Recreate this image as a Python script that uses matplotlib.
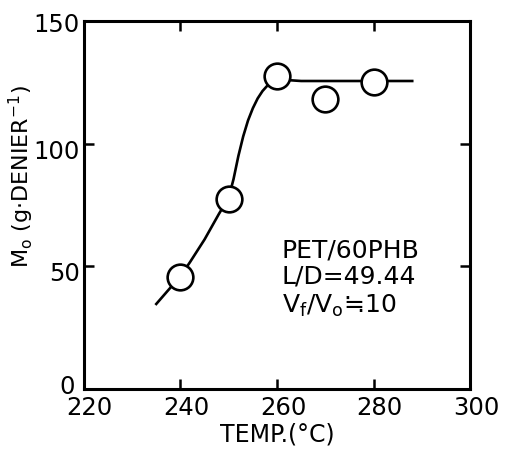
import matplotlib
matplotlib.use("Agg")
import matplotlib.pyplot as plt
import matplotlib.transforms as mtransforms

# measured points
temp = [240, 250, 260, 270, 280]
modulus = [45.7, 77.5, 127.8, 118.2, 125.2]

# hand-drawn trend line
curve_t = [235, 238, 240, 242, 245, 248, 250, 251, 252, 253, 254, 255, 256, 257, 258, 259, 260, 262, 265, 288]
curve_m = [34.7, 41.5, 46, 51.8, 61, 71.5, 78, 85.6, 95, 103, 109.5, 114.5, 118.5, 121.5, 123.7, 125.2, 126, 126, 125.6, 125.6]

xticks = [220, 240, 260, 280, 300]
yticks = [0, 50, 100, 150]

plt.rcParams['font.family'] = ['DejaVu Sans']
plt.rcParams['mathtext.default'] = 'regular'

fig = plt.figure(figsize=(5.05, 4.52), dpi=100)
ax = fig.add_axes([0.166, 0.137, 0.765, 0.814])

ax.plot(curve_t, curve_m, color="black", lw=1.9, zorder=2)
ax.plot(temp, modulus, "o", ms=18.5, mfc="white", mec="black", mew=1.9, zorder=3)

ax.set_xlim(220, 300)
ax.set_ylim(0, 150)
ax.set_xticks(xticks)
ax.set_yticks(yticks)
ax.tick_params(direction="in", length=7, width=1.8, labelsize=17.5,
               top=True, right=True, pad=4)
ax.tick_params(axis="y", pad=3)
for s in ax.spines.values():
    s.set_linewidth(2.2)

# nudge tick labels (lettering is a bit off its ticks)
def nudge(lab, dx, dy):
    off = mtransforms.ScaledTranslation(dx / 100, dy / 100, fig.dpi_scale_trans)
    lab.set_transform(lab.get_transform() + off)

for lab in ax.get_xticklabels():
    nudge(lab, 6, 0)
for lab, (dx, dy) in zip(ax.get_yticklabels(), [(-5, 6), (0, -4), (0, -5), (0, 0)]):
    nudge(lab, dx, dy)

ax.set_xlabel("TEMP.(°C)", fontsize=17, labelpad=2)
ax.set_ylabel("M$_o$ (g·DENIER$^{-1}$)", fontsize=16)
ax.yaxis.set_label_coords(-0.125, 0.58)

ax.text(261, 54.2, "PET/60PHB", fontsize=18, va="baseline")
ax.text(261, 43.6, "L/D=49.44", fontsize=18, va="baseline")
ax.text(261, 31.4, "V$_f$/V$_o$≒10", fontsize=18, va="baseline")

fig.savefig("out.png", dpi=100)
